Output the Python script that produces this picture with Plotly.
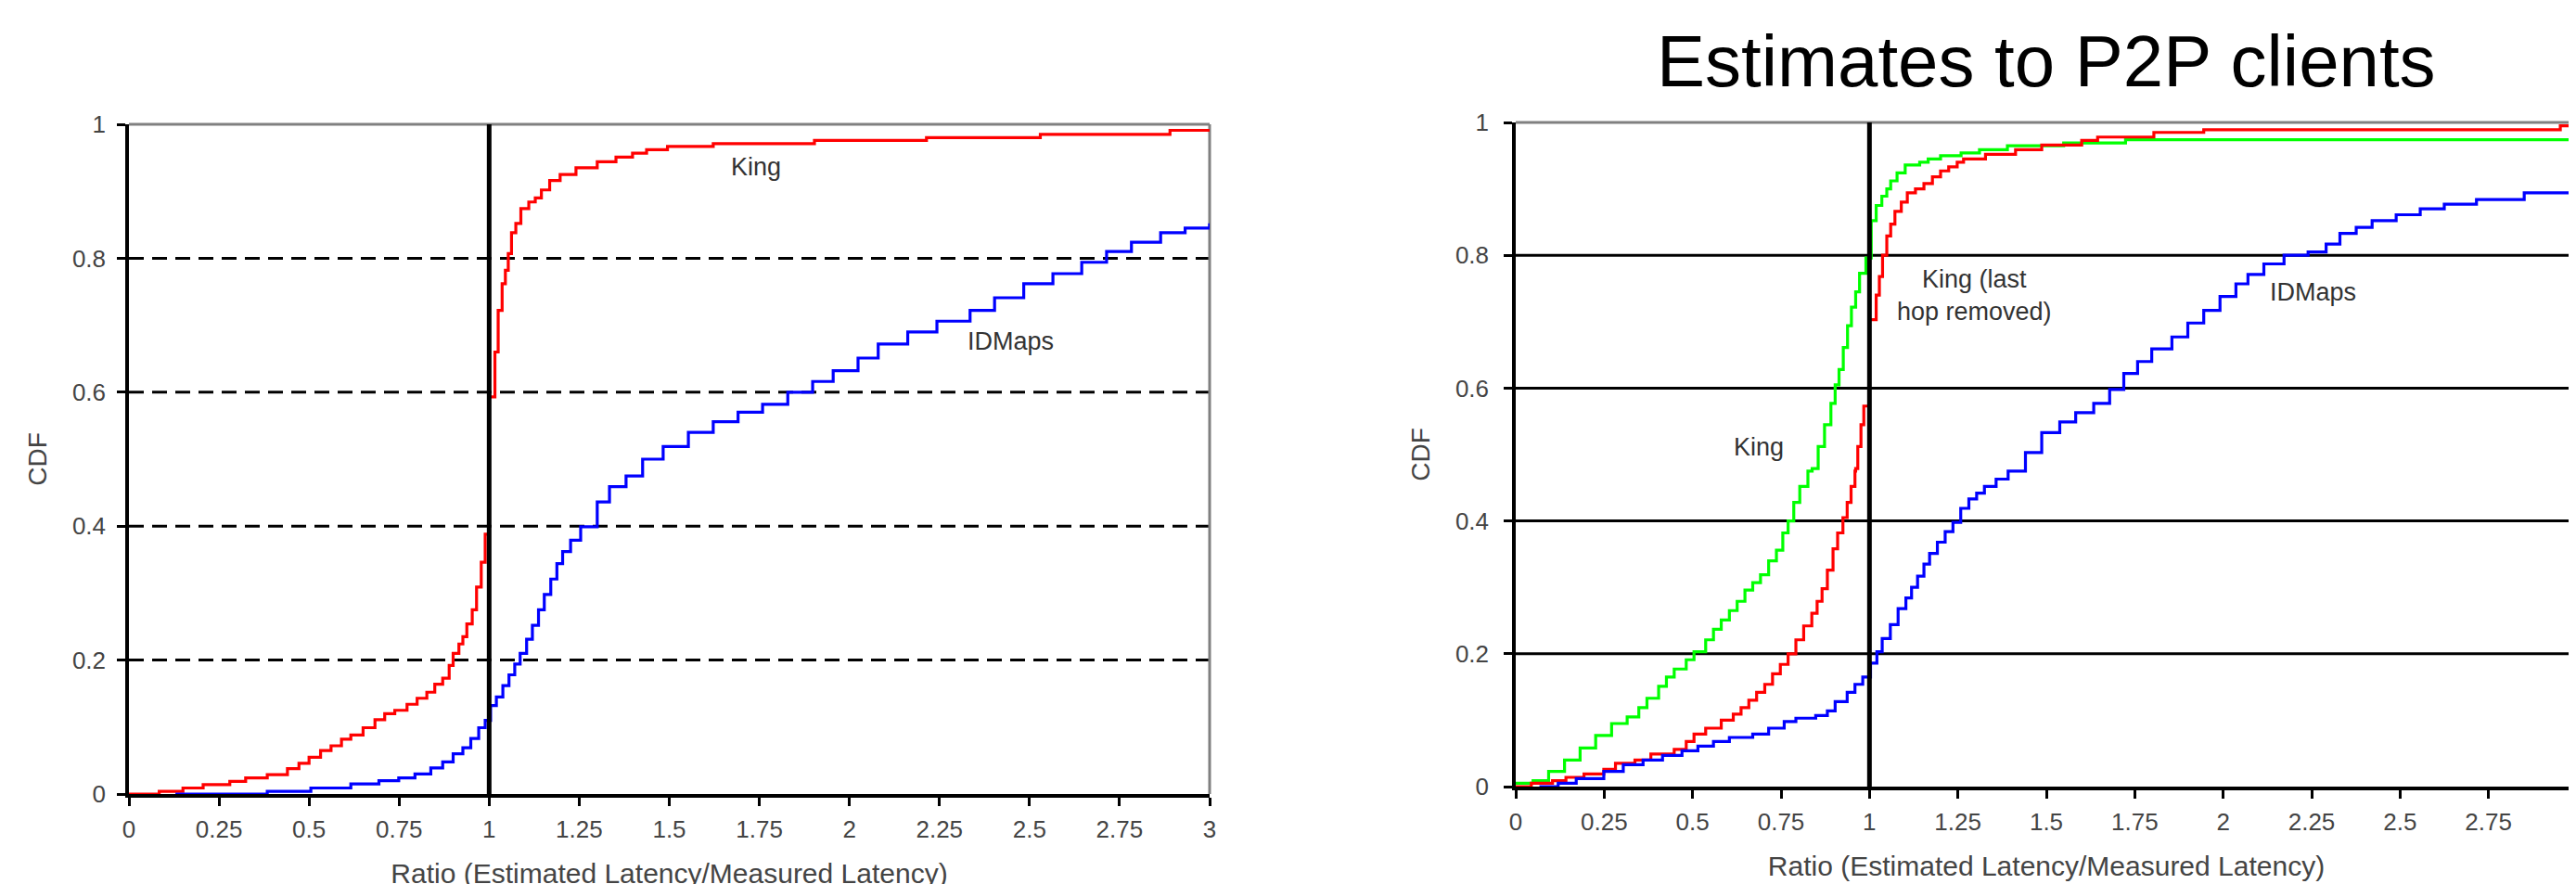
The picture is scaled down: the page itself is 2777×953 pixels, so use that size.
import plotly.graph_objects as go

# ---------------- data ----------------
X_TICKS = [0, 0.25, 0.5, 0.75, 1, 1.25, 1.5, 1.75, 2, 2.25, 2.5, 2.75, 3]
X_TICK_TEXT = ["0", "0.25", "0.5", "0.75", "1", "1.25", "1.5", "1.75", "2", "2.25", "2.5", "2.75", "3"]
Y_TICKS = [0, 0.2, 0.4, 0.6, 0.8, 1]
Y_TICK_TEXT = ["0", "0.2", "0.4", "0.6", "0.8", "1"]
GRID_Y = [0.2, 0.4, 0.6, 0.8]

TITLE = "Estimates to P2P clients"
X_TITLE = "Ratio (Estimated Latency/Measured Latency)"
Y_TITLE = "CDF"

# Left panel: King (red)
LK_X = [0, 0.084, 0.15, 0.206, 0.28, 0.324, 0.384, 0.44, 0.472, 0.50, 0.532, 0.561, 0.59, 0.616, 0.65,
        0.683, 0.71, 0.738, 0.772, 0.80, 0.827, 0.849, 0.871, 0.889, 0.90, 0.916, 0.927, 0.938, 0.953,
        0.965, 0.978, 0.989, 1.0, 1.016, 1.025, 1.036, 1.045, 1.053, 1.062, 1.074, 1.088, 1.11, 1.128,
        1.145, 1.168, 1.197, 1.241, 1.30, 1.352, 1.398, 1.437, 1.495, 1.622, 1.903, 2.214, 2.53, 2.89, 3.0]
LK_Y = [0, 0.004, 0.009, 0.014, 0.019, 0.024, 0.029, 0.038, 0.046, 0.055, 0.065, 0.072, 0.082, 0.088, 0.099,
        0.111, 0.12, 0.125, 0.134, 0.143, 0.152, 0.164, 0.173, 0.192, 0.21, 0.224, 0.235, 0.254, 0.275,
        0.309, 0.346, 0.388, 0.593, 0.66, 0.722, 0.762, 0.782, 0.807, 0.838, 0.852, 0.874, 0.884, 0.89,
        0.902, 0.916, 0.925, 0.935, 0.944, 0.951, 0.957, 0.962, 0.967, 0.971, 0.976, 0.98, 0.985, 0.991, 0.991]

# Left panel: IDMaps (blue)
LI_X = [0.129, 0.384, 0.505, 0.616, 0.694, 0.749, 0.794, 0.838, 0.871, 0.90, 0.927, 0.949, 0.971, 0.989,
        1.004, 1.02, 1.038, 1.055, 1.071, 1.086, 1.104, 1.12, 1.137, 1.153, 1.171, 1.188, 1.204, 1.226,
        1.254, 1.30, 1.334, 1.38, 1.426, 1.483, 1.553, 1.622, 1.691, 1.759, 1.829, 1.898, 1.955, 2.024,
        2.08, 2.162, 2.243, 2.335, 2.403, 2.484, 2.565, 2.645, 2.714, 2.783, 2.864, 2.932, 3.0]
LI_Y = [0, 0.004, 0.009, 0.015, 0.02, 0.024, 0.03, 0.039, 0.048, 0.06, 0.069, 0.083, 0.099, 0.11,
        0.132, 0.145, 0.162, 0.178, 0.194, 0.21, 0.231, 0.252, 0.275, 0.298, 0.321, 0.344, 0.362, 0.379,
        0.399, 0.436, 0.459, 0.475, 0.50, 0.519, 0.54, 0.556, 0.57, 0.582, 0.60, 0.616, 0.632, 0.651,
        0.672, 0.69, 0.706, 0.722, 0.741, 0.762, 0.777, 0.794, 0.81, 0.824, 0.838, 0.845, 0.852]

# Right panel: King (green)
RK_X = [0, 0.049, 0.093, 0.138, 0.182, 0.226, 0.271, 0.315, 0.348, 0.371, 0.404, 0.426, 0.448, 0.482, 0.504,
        0.537, 0.559, 0.581, 0.604, 0.626, 0.648, 0.67, 0.692, 0.715, 0.737, 0.755, 0.77, 0.786, 0.803, 0.826,
        0.838, 0.855, 0.873, 0.891, 0.903, 0.914, 0.926, 0.938, 0.949, 0.961, 0.972, 0.99, 1.005, 1.019,
        1.035, 1.049, 1.06, 1.078, 1.101, 1.142, 1.166, 1.201, 1.259, 1.311, 1.39, 1.549, 1.724, 3.0]
RK_Y = [0.005, 0.009, 0.023, 0.04, 0.058, 0.077, 0.095, 0.105, 0.119, 0.133, 0.151, 0.165, 0.177, 0.191, 0.203,
        0.221, 0.237, 0.251, 0.265, 0.279, 0.296, 0.307, 0.319, 0.34, 0.356, 0.382, 0.40, 0.428, 0.452, 0.475,
        0.479, 0.512, 0.545, 0.577, 0.605, 0.628, 0.661, 0.694, 0.722, 0.745, 0.773, 0.796, 0.852, 0.875,
        0.889, 0.90, 0.912, 0.924, 0.936, 0.94, 0.945, 0.95, 0.954, 0.959, 0.965, 0.969, 0.974, 0.974]

# Right panel: King, last hop removed (red)
RR_X = [0, 0.044, 0.104, 0.142, 0.193, 0.249, 0.282, 0.337, 0.382, 0.448, 0.482, 0.504, 0.537, 0.581, 0.615,
        0.637, 0.659, 0.681, 0.704, 0.726, 0.748, 0.77, 0.792, 0.814, 0.837, 0.852, 0.866, 0.881, 0.897, 0.91,
        0.925, 0.937, 0.948, 0.959, 0.961, 0.967, 0.976, 0.984, 1.0, 1.019, 1.028, 1.037, 1.049, 1.06, 1.072,
        1.09, 1.107, 1.13, 1.154, 1.178, 1.201, 1.224, 1.248, 1.266, 1.328, 1.413, 1.487, 1.6, 1.645, 1.804,
        1.945, 2.953, 3.0]
RR_Y = [0, 0.005, 0.009, 0.014, 0.019, 0.026, 0.035, 0.04, 0.049, 0.056, 0.068, 0.079, 0.088, 0.10, 0.109,
        0.119, 0.13, 0.142, 0.154, 0.17, 0.184, 0.20, 0.221, 0.242, 0.261, 0.279, 0.298, 0.326, 0.358, 0.382,
        0.405, 0.428, 0.452, 0.475, 0.479, 0.512, 0.545, 0.573, 0.703, 0.74, 0.768, 0.80, 0.829, 0.847, 0.866,
        0.88, 0.894, 0.90, 0.908, 0.918, 0.927, 0.933, 0.94, 0.945, 0.952, 0.959, 0.966, 0.973, 0.978, 0.985,
        0.989, 0.995, 0.995]

# Right panel: IDMaps (blue)
RI_X = [0.067, 0.12, 0.171, 0.249, 0.304, 0.36, 0.415, 0.47, 0.515, 0.559, 0.604, 0.67, 0.715, 0.759, 0.792,
        0.848, 0.881, 0.903, 0.937, 0.959, 0.981, 1.003, 1.021, 1.036, 1.059, 1.081, 1.103, 1.119, 1.136, 1.154,
        1.17, 1.192, 1.214, 1.236, 1.258, 1.281, 1.303, 1.325, 1.358, 1.392, 1.441, 1.487, 1.538, 1.583, 1.634,
        1.679, 1.719, 1.758, 1.798, 1.855, 1.9, 1.945, 1.991, 2.036, 2.07, 2.115, 2.172, 2.24, 2.291, 2.33,
        2.376, 2.421, 2.489, 2.557, 2.625, 2.716, 2.851, 3.0]
RI_Y = [0, 0.005, 0.012, 0.023, 0.033, 0.04, 0.047, 0.054, 0.061, 0.068, 0.074, 0.079, 0.088, 0.098, 0.103,
        0.107, 0.114, 0.128, 0.142, 0.154, 0.165, 0.186, 0.203, 0.223, 0.244, 0.268, 0.284, 0.30, 0.317, 0.335,
        0.351, 0.368, 0.384, 0.398, 0.419, 0.433, 0.442, 0.452, 0.463, 0.475, 0.503, 0.533, 0.549, 0.563, 0.577,
        0.598, 0.622, 0.64, 0.659, 0.677, 0.698, 0.717, 0.738, 0.757, 0.771, 0.787, 0.80, 0.805, 0.817, 0.833,
        0.842, 0.852, 0.861, 0.87, 0.877, 0.884, 0.894, 0.898]

# in-plot labels: (text, x, y, axis-suffix)
LABELS = [
    ("King", 1.741, 0.936, ""),
    ("IDMaps", 2.448, 0.676, ""),
    ("King", 0.687, 0.511, "2"),
    ("King (last<br>hop removed)", 1.296, 0.739, "2"),
    ("IDMaps", 2.253, 0.744, "2"),
]

RED, BLUE, GREEN = "#ff0000", "#0000ff", "#00ff00"
FONT = "Arial, Liberation Sans, sans-serif"
TXT = "#444444"

W, H = 2777, 953

fig = go.Figure()


def add_series(x, y, color, ax):
    fig.add_trace(go.Scatter(x=x, y=y, mode="lines", line=dict(color=color, width=3.2, shape="hv"),
                             xaxis="x" + ax, yaxis="y" + ax, showlegend=False, hoverinfo="skip"))


add_series(LK_X, LK_Y, RED, "")
add_series(LI_X, LI_Y, BLUE, "")
add_series(RK_X, RK_Y, GREEN, "2")
add_series(RR_X, RR_Y, RED, "2")
add_series(RI_X, RI_Y, BLUE, "2")


def xaxis(domain, anchor):
    return dict(domain=domain, anchor=anchor, range=[0, 3], tickmode="array", tickvals=X_TICKS,
                ticktext=X_TICK_TEXT, showline=True, linecolor="black", linewidth=4, ticks="outside",
                ticklen=9, tickwidth=2.5, tickcolor="black", showgrid=False, zeroline=False,
                tickfont=dict(family=FONT, size=26, color=TXT), ticklabelstandoff=3,
                ticklabeloverflow="allow",
                layer="below traces", automargin=False,
                title=dict(text=X_TITLE, font=dict(family=FONT, size=30, color=TXT), standoff=24))


def yaxis(domain, anchor, standoff):
    return dict(domain=domain, anchor=anchor, range=[0, 1], tickmode="array", tickvals=Y_TICKS,
                ticktext=Y_TICK_TEXT, showline=True, linecolor="black", linewidth=3.5, ticks="outside",
                ticklen=9, tickwidth=2.5, tickcolor="black", showgrid=False, zeroline=False,
                tickfont=dict(family=FONT, size=26, color=TXT), ticklabelstandoff=standoff,
                layer="below traces", automargin=False,
                title=dict(text=Y_TITLE, font=dict(family=FONT, size=28, color=TXT), standoff=20))


L_X = [131 / W, 1296 / W]
L_Y = [1 - 848 / H, 1 - 126 / H]
R_X = [1626 / W, 2770 / W]
R_Y = [1 - 840 / H, 1 - 124 / H]

fig.update_layout(
    width=W, height=H, margin=dict(l=0, r=0, t=0, b=0, autoexpand=False), autosize=False,
    paper_bgcolor="white", plot_bgcolor="white",
    xaxis=xaxis(L_X, "y"), yaxis=yaxis(L_Y, "x", 7),
    xaxis2=xaxis(R_X, "y2"), yaxis2=yaxis(R_Y, "x2", 11),
)

shapes = []
for ax, dash in (("", "16px,9px"), ("2", "solid")):
    for gy in GRID_Y:
        shapes.append(dict(type="line", xref="x" + ax + " domain", yref="y" + ax, x0=0, x1=1, y0=gy, y1=gy,
                           line=dict(color="black", width=3, dash=dash), layer="below"))
    # gray top and right frame
    shapes.append(dict(type="line", xref="x" + ax + " domain", yref="y" + ax + " domain", x0=0, x1=1, y0=1, y1=1,
                       line=dict(color="#808080", width=3), layer="below"))
    shapes.append(dict(type="line", xref="x" + ax + " domain", yref="y" + ax + " domain", x0=1, x1=1, y0=0, y1=1,
                       line=dict(color="#808080", width=3), layer="below"))
    # thick reference line at ratio = 1
    shapes.append(dict(type="line", xref="x" + ax, yref="y" + ax + " domain", x0=1, x1=1, y0=0, y1=1,
                       line=dict(color="black", width=5), layer="above"))
fig.update_layout(shapes=shapes)

annotations = []
for text, lx, ly, ax in LABELS:
    annotations.append(dict(text=text, x=lx, y=ly, xref="x" + ax, yref="y" + ax, showarrow=False,
                            xanchor="center", yanchor="middle",
                            font=dict(family=FONT, size=27, color="#333333")))
annotations.append(dict(text=TITLE, x=(1626 + 2770) / 2 / W, y=1 - 58 / H, xref="paper", yref="paper",
                        showarrow=False, xanchor="center", yanchor="middle",
                        font=dict(family=FONT, size=78, color="black")))
fig.update_layout(annotations=annotations)

fig.write_html("out.html")
